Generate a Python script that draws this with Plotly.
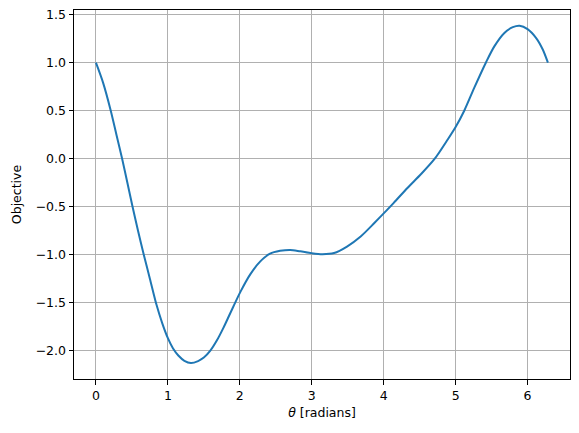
import plotly.graph_objects as go

# values
theta = [0.00, 0.10, 0.206, 0.285, 0.364, 0.437, 0.509, 0.585, 0.665, 0.75, 0.843, 0.92,
         1.00, 1.07, 1.145, 1.23, 1.32, 1.42, 1.50, 1.59, 1.68, 1.77, 1.87, 2.01, 2.145,
         2.285, 2.42, 2.56, 2.70, 2.84, 3.00, 3.15, 3.31, 3.49, 3.68, 3.87, 4.00,
         4.14, 4.33, 4.52, 4.71, 4.89, 5.00, 5.12, 5.26, 5.42, 5.538, 5.678, 5.795,
         5.89, 6.00, 6.12, 6.213, 6.283]
objective = [1.00, 0.79, 0.50, 0.25, 0.00, -0.25, -0.50, -0.75, -1.00, -1.25, -1.525, -1.71,
             -1.87, -1.975, -2.05, -2.105, -2.128, -2.108, -2.072, -2.00, -1.895, -1.765, -1.605, -1.385, -1.205,
             -1.07, -0.99, -0.96, -0.95, -0.965, -0.985, -0.995, -0.983, -0.915, -0.81, -0.67, -0.57,
             -0.46, -0.305, -0.16, 0.00, 0.20, 0.33, 0.50, 0.74, 1.00, 1.17, 1.31, 1.37,
             1.385, 1.35, 1.257, 1.135, 1.00]

x_ticks = [0, 1, 2, 3, 4, 5, 6]
y_ticks = [-2.0, -1.5, -1.0, -0.5, 0.0, 0.5, 1.0, 1.5]

fig = go.Figure()
fig.add_trace(go.Scatter(x=theta, y=objective, mode='lines',
                         line=dict(color='#1f77b4', width=2, shape='spline', smoothing=0.8)))

axis_style = dict(showline=True, linecolor='black', linewidth=1, mirror=True,
                  ticks='outside', ticklen=4.5, tickwidth=1, tickcolor='black',
                  showgrid=True, gridcolor='#b0b0b0', gridwidth=1, zeroline=False,
                  automargin=False, tickfont=dict(size=12.5, color='black'))

fig.update_xaxes(range=[-0.305, 6.59], tickvals=x_ticks, ticktext=[str(t) for t in x_ticks],
                 title=dict(text='<i>θ</i> [radians]', font=dict(size=12.5, color='black'), standoff=6),
                 **axis_style)
fig.update_yaxes(range=[-2.295, 1.549], tickvals=y_ticks,
                 ticktext=[f'{t:.1f}'.replace('-', '\u2212') for t in y_ticks],
                 title=dict(text='Objective', font=dict(size=12.5, color='black'), standoff=11),
                 **axis_style)

fig.update_layout(width=579, height=433, showlegend=False,
                  plot_bgcolor='white', paper_bgcolor='white',
                  font=dict(family='DejaVu Sans'),
                  margin=dict(l=74, r=9, t=10, b=54))

# drop the default page margin so the figure sits at the window corner
fig.write_html("out.html", config={'displayModeBar': False},
               post_script="document.body.style.margin = '0';")
